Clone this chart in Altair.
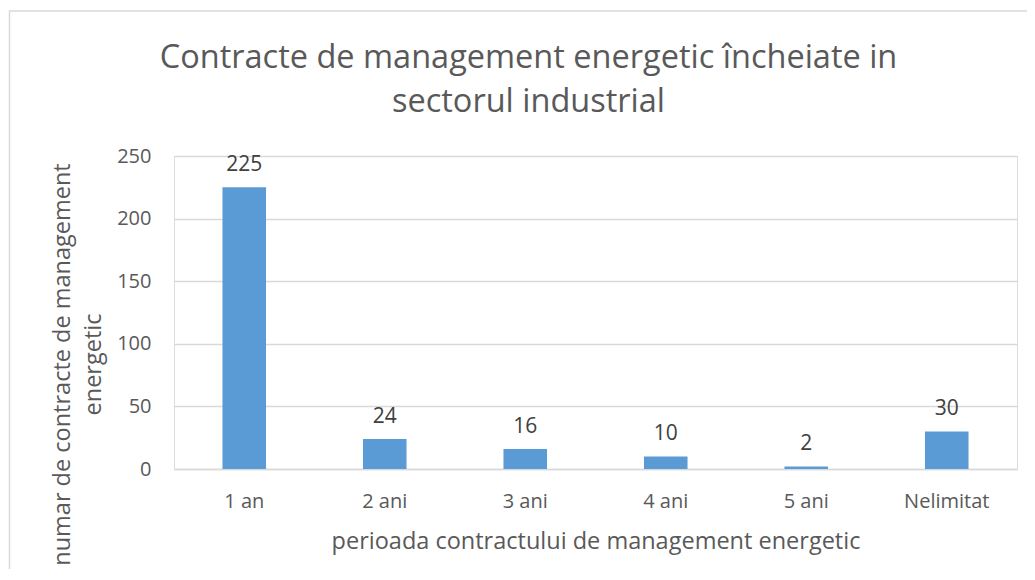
import altair as alt
import pandas as pd

categories = ["1 an", "2 ani", "3 ani", "4 ani", "5 ani", "Nelimitat"]
values = [225, 24, 16, 10, 2, 30]

df = pd.DataFrame({"perioada": categories, "numar": values})

FONT = "Open Sans"
GRAY = "#595959"

base = alt.Chart(df)

border = base.mark_rect(fill="transparent", stroke="#d9d9d9", strokeWidth=1.5).encode(
    x=alt.value(-164.5), x2=alt.value(900), y=alt.value(-145), y2=alt.value(600)
).transform_filter(alt.datum.perioada == "1 an")

bars = base.mark_bar(color="#5b9bd5").encode(
    x=alt.X(
        "perioada:N",
        sort=categories,
        scale=alt.Scale(paddingInner=0.69, paddingOuter=0.345),
        axis=alt.Axis(
            title="perioada contractului de management energetic",
            labelAngle=0,
            labelFont=FONT, labelFontSize=20, labelColor=GRAY,
            labelPadding=22,
            titleFont=FONT, titleFontSize=23.5, titleColor=GRAY, titleFontWeight="normal",
            titlePadding=18,
            ticks=False, domainColor="#d9d9d9", domainWidth=1.5,
        ),
    ),
    y=alt.Y(
        "numar:Q",
        scale=alt.Scale(domain=[0, 250], nice=False),
        axis=alt.Axis(
            title=["numar de contracte de management", "energetic"],
            values=[0, 50, 100, 150, 200, 250],
            labelFont=FONT, labelFontSize=20, labelColor=GRAY,
            labelPadding=23,
            titleFont=FONT, titleFontSize=23.5, titleColor=GRAY, titleFontWeight="normal",
            titleLineHeight=31,
            titleY=208,
            titlePadding=11,
            ticks=False, domain=False,
            gridColor="#d9d9d9", gridWidth=1.5,
        ),
    ),
)

labels = base.mark_text(
    font=FONT, fontSize=21, color="#404040", baseline="alphabetic", dy=-16
).encode(
    x=alt.X("perioada:N", sort=categories),
    y="numar:Q",
    text="numar:Q",
)

chart = alt.layer(border, bars, labels).properties(
    width=843,
    height=313,
    padding={"left": 166, "top": 148, "right": 10, "bottom": 100},
    autosize=alt.AutoSizeParams(type="none"),
    title=alt.TitleParams(
        text=["Contracte de management energetic încheiate in", "sectorul industrial"],
        font=FONT, fontSize=32.5, fontWeight="normal", color=GRAY,
        lineHeight=44, anchor="middle", dx=-67, offset=-141, baseline="bottom",
    ),
).configure_view(stroke=None).configure(background="white")

chart.save("out.html", embed_options={"renderer": "svg", "actions": False})
